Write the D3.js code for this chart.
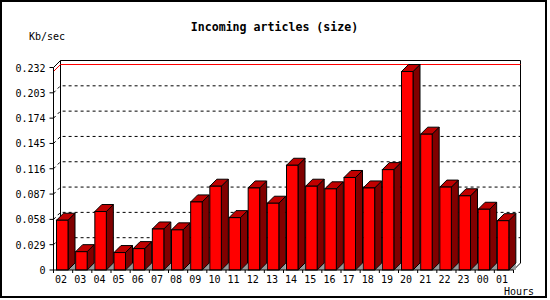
<!DOCTYPE html>
<html>
<head>
<meta charset="utf-8">
<script src="https://cdn.jsdelivr.net/npm/d3@7"></script>
<style>
  body { margin: 0; background: #fff; }
  text { font-family: "DejaVu Sans Mono", monospace; font-size: 10px; fill: #000; }
  .title { font-size: 11.6px; font-weight: bold; }
</style>
</head>
<body>
<div id="chart"></div>
<script>
// data
const hours = ["02","03","04","05","06","07","08","09","10","11","12","13",
               "14","15","16","17","18","19","20","21","22","23","00","01"];
const kbPerSec = [0.057, 0.021, 0.067, 0.020, 0.0245, 0.047, 0.046, 0.078, 0.096, 0.060, 0.094, 0.0765,
                  0.120, 0.096, 0.093, 0.106, 0.094, 0.115, 0.2274, 0.1556, 0.095, 0.085, 0.0696, 0.0565];
const yTicks = [0, 0.029, 0.058, 0.087, 0.116, 0.145, 0.174, 0.203, 0.232];
const yTickLabels = ["0","0.029","0.058","0.087","0.116","0.145","0.174","0.203","0.232"];

const width = 550, height = 300;
const depth = 7;

const svg = d3.select("#chart").append("svg")
  .attr("width", width)
  .attr("height", height);

// outer frame
svg.append("rect")
  .attr("x", 1).attr("y", 1)
  .attr("width", 545).attr("height", 296)
  .attr("fill", "none").attr("stroke", "#000").attr("stroke-width", 2);

// scales
const xScale = d3.scaleBand()
  .domain(hours)
  .range([53.5, 513.5]);

const yScale = d3.scaleLinear()
  .domain([0, 0.232])
  .range([270, 67.5]);

const x0 = xScale.range()[0], x1 = xScale.range()[1];
const yTop = yScale(0.232), yBase = yScale(0);

// back wall: dashed grid lines + diagonals on the left wall
const inner = yTicks.slice(1, -1);
svg.selectAll(".grid")
  .data(inner)
  .enter().append("path")
    .attr("class", "grid")
    .attr("d", d => `M${x0},${yScale(d)}L${x0 + depth},${yScale(d) - depth}L${x1 + depth},${yScale(d) - depth}`)
    .attr("fill", "none")
    .attr("stroke", "#000")
    .attr("stroke-dasharray", "3,3");

// back wall outline
svg.append("path")
  .attr("d", `M${x0},${yTop}L${x0 + depth},${yTop - depth}L${x1 + depth},${yTop - depth}L${x1 + depth},${yBase - depth}L${x1},${yBase}`)
  .attr("fill", "none").attr("stroke", "#000");
svg.append("line")
  .attr("x1", x0 + depth).attr("x2", x0 + depth)
  .attr("y1", yTop - depth).attr("y2", yBase - depth)
  .attr("stroke", "#000");

// max line in red
const maxVal = d3.max(kbPerSec);
svg.append("path")
  .attr("d", `M${x0},${yScale(maxVal)}L${x0 + depth},${yScale(maxVal) - depth}L${x1 + depth},${yScale(maxVal) - depth}`)
  .attr("fill", "none")
  .attr("stroke", "#ff0000");

// bars
const barOff = 3, barW = 11.5;
const bars = svg.selectAll(".bar")
  .data(hours.map((h, i) => ({ hour: h, value: kbPerSec[i] })))
  .enter().append("g")
    .attr("class", "bar");

bars.append("path")
  .attr("d", d => {
    const r = xScale(d.hour) + barOff + barW;
    return `M${r},${yBase}L${r + depth},${yBase - depth}L${r + depth},${yBase}Z`;
  })
  .attr("fill", "#999");

bars.append("path")
  .attr("d", d => {
    const r = xScale(d.hour) + barOff + barW, t = yScale(d.value);
    return `M${r},${t}L${r + depth},${t - depth}L${r + depth},${yBase - depth}L${r},${yBase}Z`;
  })
  .attr("fill", "#800000")
  .attr("stroke", "#000");

bars.append("path")
  .attr("d", d => {
    const l = xScale(d.hour) + barOff, t = yScale(d.value);
    return `M${l},${t}L${l + depth},${t - depth}L${l + barW + depth},${t - depth}L${l + barW},${t}Z`;
  })
  .attr("fill", "#c00000")
  .attr("stroke", "#000");

bars.append("rect")
  .attr("x", d => xScale(d.hour) + barOff)
  .attr("y", d => yScale(d.value))
  .attr("width", barW)
  .attr("height", d => yBase - yScale(d.value))
  .attr("fill", "#ff0000")
  .attr("stroke", "#000");

// front axes
svg.append("line")
  .attr("x1", x0).attr("x2", x0)
  .attr("y1", yTop).attr("y2", yBase)
  .attr("stroke", "#000");
svg.append("line")
  .attr("x1", x0).attr("x2", x1)
  .attr("y1", yBase).attr("y2", yBase)
  .attr("stroke", "#000");

// y ticks + labels
svg.selectAll(".ytick")
  .data(yTicks)
  .enter().append("line")
    .attr("x1", x0 - 4).attr("x2", x0)
    .attr("y1", d => yScale(d)).attr("y2", d => yScale(d))
    .attr("stroke", "#000");

svg.selectAll(".ylabel")
  .data(yTicks)
  .enter().append("text")
    .attr("x", 45.5)
    .attr("y", d => yScale(d) + 4)
    .attr("text-anchor", "end")
    .text((d, i) => yTickLabels[i]);

// x ticks + labels
svg.selectAll(".xtick")
  .data(hours.concat(["end"]))
  .enter().append("line")
    .attr("x1", (d, i) => x0 + i * xScale.bandwidth())
    .attr("x2", (d, i) => x0 + i * xScale.bandwidth())
    .attr("y1", yBase).attr("y2", yBase + 3)
    .attr("stroke", "#000");

svg.selectAll(".xlabel")
  .data(hours)
  .enter().append("text")
    .attr("x", d => xScale(d) + xScale.bandwidth() / 2 - 2)
    .attr("y", 283)
    .attr("text-anchor", "middle")
    .text(d => d);

// titles
svg.append("text")
  .attr("class", "title")
  .attr("x", 274.5).attr("y", 31)
  .attr("text-anchor", "middle")
  .text("Incoming articles (size)");

svg.append("text")
  .attr("x", 29).attr("y", 40)
  .text("Kb/sec");

svg.append("text")
  .attr("x", 504).attr("y", 295)
  .text("Hours");
</script>
</body>
</html>
